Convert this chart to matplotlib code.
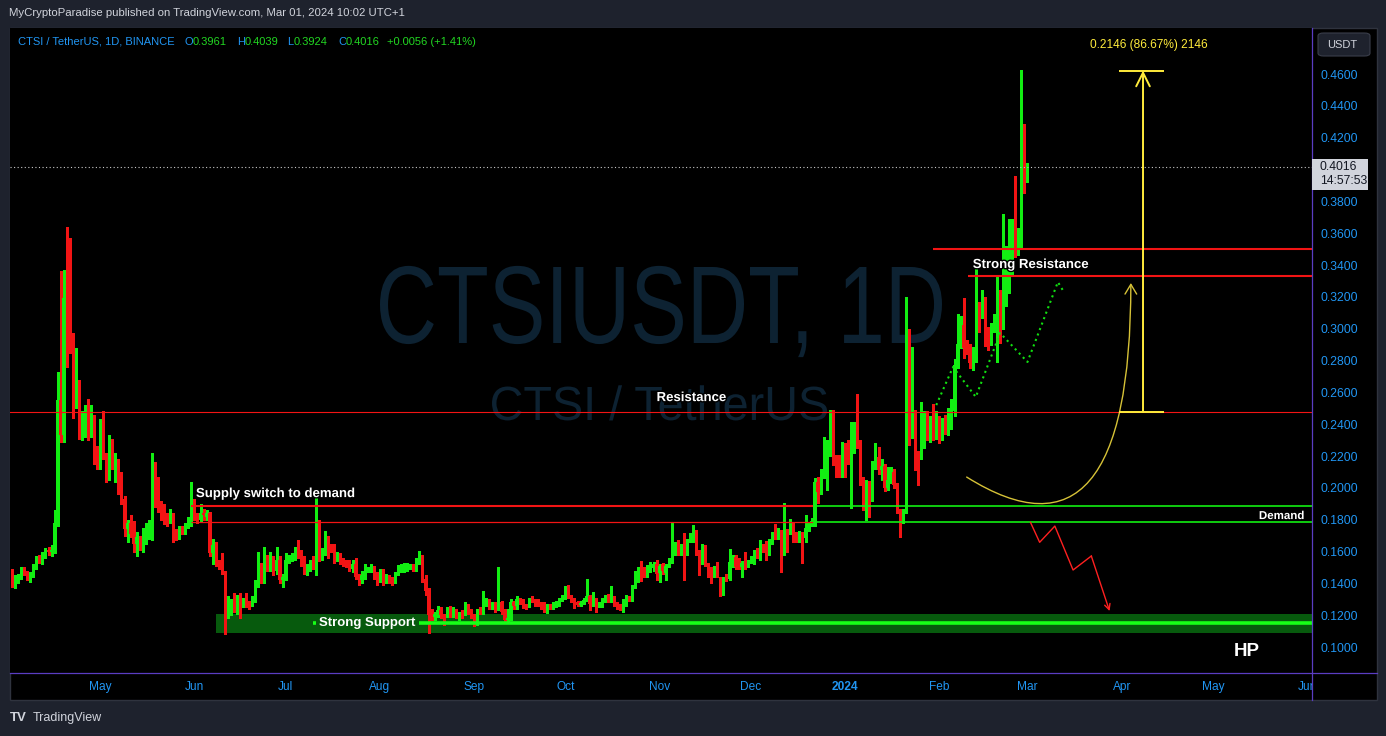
import matplotlib
matplotlib.use("Agg")
import matplotlib.pyplot as plt
import matplotlib.dates as mdates
import matplotlib.transforms as mtransforms
import matplotlib.patheffects as pe
import numpy as np
import pandas as pd
from matplotlib.patches import Rectangle, FancyBboxPatch, PathPatch, FancyArrowPatch
from matplotlib.path import Path
from matplotlib.textpath import TextPath
from matplotlib.font_manager import FontProperties
from matplotlib.lines import Line2D

plt.rcParams['font.family'] = ['Liberation Sans', 'DejaVu Sans']

# daily CTSI/USDT candles (last one = 2024-03-01)
opens = [
    .146, .141, .143, .145, .149, .146, .143, .145, .151, .156,
    .155, .158, .161, .160, .161, .178, .255, .233, .319, .301,
    .293, .255, .266, .235, .236, .248, .242, .243, .224, .222,
    .233, .221, .209, .229, .215, .217, .200, .193, .174, .178,
    .177, .165, .169, .163, .168, .171, .172, .209, .193, .191,
    .188, .181, .180, .182, .172, .171, .174, .173, .177, .178,
    .191, .182, .180, .184, .182, .184, .159, .164, .154, .152,
    .148, .121, .125, .127, .126, .131, .127, .129, .128, .127,
    .130, .139, .147, .142, .152, .150, .155, .148, .155, .142,
    .144, .155, .156, .157, .160, .159, .153, .147, .150, .153,
    .150, .178, .157, .160, .167, .163, .161, .155, .158, .1545,
    .1537, .153, .149, .152, .144, .142, .145, .148, .149, .149,
    .145, .142, .147, .142, .144, .1427, .141, .1455, .148, .149,
    .1495, .150, .1506, .149, .153, .157, .143, .1355, .121, .119,
    .121, .123, .120, .120, .123, .120, .123, .119, .121, .121,
    .1255, .122, .119, .116, .123, .122, .1275, .129, .125, .127,
    .124, .128, .123, .117, .118, .128, .1255, .130, .1287, .1259,
    .1255, .1307, .1297, .1291, .1276, .127, .123, .126, .1255, .1255,
    .1272, .1293, .1303, .1374, .1328, .1301, .128, .1266, .1276, .1293,
    .1318, .1266, .1291, .1255, .1255, .1293, .1318, .1293, .1312, .127,
    .1259, .1234, .1272, .1312, .1303, .1381, .1427, .1485, .1485, .1454,
    .1481, .1495, .1523, .1464, .1523, .1464, .151, .1547, .160, .1641,
    .161, .1627, .1594, .1673, .1677, .1714, .160, .1537, .1631, .1526,
    .1495, .1453, .1484, .1421, .1338, .1432, .1425, .1532, .1568, .1552,
    .1505, .1526, .1505, .1537, .1547, .1594, .159, .1647, .1662, .160,
    .1662, .1714, .1693, .1725, .160, .1725, .1725, .1767, .1714, .1688,
    .1719, .1683, .1746, .1767, .1788, .2039, .1987, .2091, .2207, .2248,
    .2426, .2196, .2128, .2123, .227, .223, .2196, .2259, .2306, .228,
    .205, .1934, .2025, .1934, .2148, .2196, .2113, .2138, .1997, .205,
    .2102, .2018, .1861, .1798, .1851, .2699, .2437, .2452, .2217, .2196,
    .2269, .2406, .2322, .240, .235, .242, .233, .239, .236, .242,
    .248, .2772, .2904, .3023, .2877, .285, .2782, .285, .3153, .3113,
    .3159, .3002, .2919, .2996, .3076, .3086, .3023, .3243, .3327, .3348,
    .3595, .3526, .3536, .4192, .3961,
]
highs = [
    .149, .145, .146, .150, .150, .148, .147, .152, .157, .158,
    .160, .162, .163, .164, .186, .273, .336, .337, .364, .357,
    .297, .288, .268, .248, .252, .256, .252, .246, .226, .243,
    .248, .222, .233, .231, .222, .218, .210, .195, .180, .183,
    .179, .172, .170, .175, .178, .180, .222, .216, .207, .192,
    .190, .184, .187, .184, .174, .176, .176, .178, .182, .204,
    .193, .184, .190, .187, .186, .185, .168, .166, .155, .159,
    .148, .132, .130, .134, .133, .134, .131, .134, .129, .132,
    .142, .160, .153, .163, .158, .160, .157, .163, .157, .146,
    .159, .158, .159, .163, .167, .161, .157, .152, .155, .157,
    .194, .180, .162, .173, .170, .165, .165, .160, .159, .156,
    .155, .155, .155, .156, .146, .148, .152, .150, .152, .151,
    .147, .149, .149, .146, .145, .144, .147, .1515, .152, .153,
    .153, .152, .152, .156, .1605, .158, .145, .137, .124, .122,
    .126, .125, .121, .125, .126, .125, .124, .122, .123, .128,
    .127, .124, .121, .124, .125, .1353, .131, .130, .128, .128,
    .1506, .129, .124, .124, .130, .129, .1318, .131, .130, .127,
    .131, .1318, .130, .130, .128, .128, .127, .127, .128, .129,
    .131, .133, .1385, .1391, .133, .131, .129, .129, .131, .1429,
    .133, .1347, .131, .128, .131, .133, .1332, .1385, .132, .128,
    .127, .1305, .1328, .132, .139, .148, .1502, .1542, .1506, .1516,
    .1537, .1537, .1548, .152, .1531, .152, .156, .178, .166, .167,
    .165, .1714, .168, .1718, .1767, .1735, .161, .165, .164, .153,
    .150, .151, .1537, .1442, .1442, .146, .1614, .158, .158, .156,
    .154, .160, .155, .157, .161, .162, .1673, .165, .1667, .168,
    .172, .1772, .175, .1733, .1903, .174, .1805, .178, .1725, .173,
    .1725, .183, .178, .181, .206, .2071, .212, .2322, .230, .2489,
    .2489, .2207, .2207, .229, .228, .230, .2416, .2416, .2588, .230,
    .207, .205, .2045, .217, .228, .2259, .218, .215, .2133, .2133,
    .212, .203, .187, .187, .3201, .2996, .2887, .2489, .223, .2541,
    .2483, .2483, .245, .253, .248, .245, .244, .246, .250, .256,
    .281, .3092, .308, .3191, .2932, .2904, .2887, .339, .317, .3243,
    .3201, .301, .3034, .3092, .3331, .3243, .3721, .352, .3687, .3687,
    .3959, .363, .4625, .4286, .4039,
]
lows = [
    .138, .137, .140, .143, .145, .142, .141, .144, .149, .153,
    .152, .156, .158, .157, .159, .176, .229, .229, .276, .285,
    .244, .250, .231, .230, .232, .230, .232, .215, .212, .212,
    .218, .204, .205, .212, .204, .196, .190, .170, .166, .169,
    .160, .157, .161, .160, .165, .168, .167, .188, .185, .180,
    .177, .176, .178, .166, .167, .168, .171, .171, .175, .176,
    .180, .178, .179, .180, .180, .157, .152, .151, .149, .146,
    .108, .118, .120, .122, .121, .118, .125, .125, .124, .126,
    .128, .138, .140, .140, .148, .148, .145, .146, .140, .138,
    .142, .153, .154, .155, .156, .151, .146, .145, .148, .149,
    .145, .154, .155, .158, .156, .160, .153, .154, .152, .151,
    .150, .148, .147, .143, .139, .140, .143, .147, .147, .143,
    .139, .141, .139, .140, .140, .139, .140, .145, .147, .147,
    .148, .149, .148, .148, .152, .141, .133, .1086, .117, .117,
    .119, .118, .114, .119, .119, .119, .118, .117, .118, .120,
    .121, .118, .113, .114, .121, .121, .126, .124, .124, .122,
    .123, .121, .115, .116, .117, .124, .124, .127, .1245, .124,
    .125, .128, .126, .1255, .124, .122, .1213, .124, .124, .125,
    .126, .129, .130, .131, .128, .1245, .126, .126, .127, .129,
    .123, .126, .1218, .125, .125, .128, .128, .128, .126, .124,
    .123, .122, .126, .129, .129, .137, .141, .1412, .144, .144,
    .147, .148, .1422, .1406, .146, .1422, .150, .153, .158, .158,
    .158, .1421, .158, .166, .166, .158, .1453, .152, .151, .1442,
    .140, .144, .144, .132, .1328, .1418, .142, .150, .149, .149,
    .1442, .149, .150, .153, .152, .156, .155, .160, .1547, .158,
    .165, .168, .168, .1474, .158, .160, .171, .166, .166, .166,
    .1526, .166, .173, .176, .176, .1903, .196, .206, .1987, .220,
    .2143, .207, .207, .207, .207, .215, .1872, .222, .225, .202,
    .1861, .1798, .182, .192, .212, .209, .205, .198, .1985, .203,
    .200, .184, .1694, .178, .184, .227, .2311, .2113, .2018, .218,
    .225, .230, .229, .230, .231, .228, .230, .234, .233, .237,
    .245, .275, .288, .2814, .284, .2751, .2741, .2793, .2981, .3065,
    .2892, .2866, .290, .298, .2793, .2912, .300, .3143, .3222, .333,
    .345, .3463, .350, .385, .3924,
]
closes = [
    .141, .143, .145, .149, .146, .143, .145, .151, .156, .155,
    .158, .161, .160, .161, .178, .255, .233, .319, .301, .293,
    .255, .266, .235, .236, .248, .242, .243, .224, .222, .234,
    .221, .209, .229, .215, .217, .200, .193, .174, .178, .171,
    .165, .169, .163, .168, .171, .172, .209, .191, .191, .188,
    .181, .180, .182, .172, .171, .174, .173, .177, .180, .186,
    .182, .180, .184, .183, .184, .159, .164, .154, .152, .148,
    .121, .125, .127, .126, .131, .127, .129, .127, .127, .130,
    .140, .147, .142, .152, .150, .155, .147, .155, .142, .144,
    .155, .156, .157, .160, .159, .153, .147, .150, .153, .150,
    .178, .157, .160, .167, .160, .161, .155, .158, .154, .1537,
    .1527, .149, .152, .144, .143, .145, .148, .149, .1495, .145,
    .142, .1468, .142, .144, .141, .141, .1455, .148, .149, .1495,
    .150, .1506, .149, .153, .1573, .143, .1355, .1203, .119, .121,
    .123, .120, .119, .123, .120, .123, .119, .121, .119, .125,
    .122, .119, .116, .122, .122, .1275, .129, .125, .126, .123,
    .128, .122, .117, .118, .128, .1255, .130, .1287, .1255, .1255,
    .1303, .1297, .1276, .1266, .1259, .123, .1259, .1255, .1266, .1276,
    .1291, .1305, .1374, .1318, .1293, .128, .1266, .1276, .1297, .1318,
    .1272, .128, .1245, .127, .1297, .1318, .1293, .1318, .1266, .1255,
    .1234, .1272, .1312, .1307, .1387, .1433, .1485, .1481, .1454, .1485,
    .1521, .1523, .146, .151, .1475, .151, .1548, .160, .1641, .160,
    .162, .1594, .1673, .1677, .1714, .160, .1537, .1631, .1526, .1495,
    .1453, .1495, .1453, .1338, .1425, .1425, .1532, .1568, .1505, .1505,
    .1526, .1501, .1537, .1547, .1594, .159, .1647, .162, .159, .1662,
    .1714, .1698, .1725, .160, .1729, .1693, .1767, .1683, .1688, .1714,
    .1673, .1746, .1767, .1792, .2039, .1976, .2091, .2207, .2248, .2426,
    .2196, .2123, .2123, .2259, .223, .220, .2264, .2306, .228, .205,
    .1934, .2025, .1934, .2148, .2196, .2113, .2138, .1997, .205, .2096,
    .2018, .1861, .1798, .1851, .2699, .2437, .2458, .2207, .2186, .2269,
    .2406, .2322, .240, .235, .242, .233, .239, .236, .242, .248,
    .2772, .2904, .3023, .2877, .285, .2782, .2856, .3153, .3113, .3159,
    .3002, .2919, .2996, .3076, .3086, .3023, .3243, .3327, .3348, .3595,
    .3474, .3547, .4192, .3955, .4016,
]
last_day = '2024-03-01'

price_ticks = [0.10, 0.12, 0.14, 0.16, 0.18, 0.20, 0.22, 0.24, 0.26,
               0.28, 0.30, 0.32, 0.34, 0.36, 0.38, 0.40, 0.42, 0.44, 0.46]
month_ticks = ['2023-05-01', '2023-06-01', '2023-07-01', '2023-08-01', '2023-09-01',
               '2023-10-01', '2023-11-01', '2023-12-01', '2024-01-01', '2024-02-01',
               '2024-03-01', '2024-04-01', '2024-05-01', '2024-06-01']
month_labels = ['May', 'Jun', 'Jul', 'Aug', 'Sep', 'Oct', 'Nov', 'Dec', '2024',
                'Feb', 'Mar', 'Apr', 'May', 'Jun']

# drawn levels
resistance = 0.2476
supply_levels = [0.1888, 0.1785]
support_band = [0.1091, 0.1205]
support_level = 0.1149
strong_res_levels = [0.3501, 0.3331]
last_price = 0.4016

# hand drawn forecast paths (date, price)
path_dates = ['2024-01-31', '2024-02-05 12:00', '2024-02-13', '2024-02-21',
              '2024-03-01', '2024-03-11', '2024-03-13']
path_prices = [0.2520, 0.2759, 0.2571, 0.2973, 0.2791, 0.3293, 0.3230]
drop_dates = ['2024-03-02', '2024-03-05', '2024-03-10', '2024-03-16', '2024-03-22', '2024-03-28']
drop_prices = [0.1783, 0.1658, 0.1760, 0.1484, 0.1572, 0.1226]
curve_dates = ['2024-02-10', '2024-04-04', '2024-04-04']
curve_prices = [0.2068, 0.1421, 0.3287]
measure_date = '2024-04-08'
measure_range = [0.2476, 0.4622]

W, H = 1386, 736
GREEN = '#12ee12'
RED = '#f21414'
BLUE = '#2196f3'
YELLOW = '#ffeb3b'
VALUE_GREEN = '#22d822'


def fx(px):
    return px / W


def fy(py):
    return 1 - py / H


def d(s):
    return mdates.date2num(pd.Timestamp(s))


fig = plt.figure(figsize=(W / 100, H / 100), dpi=100)
fig.patch.set_facecolor('#1e222d')
fig.add_artist(Rectangle((fx(10), fy(700)), 1367 / W, 672 / H, transform=fig.transFigure,
                         facecolor='black', edgecolor='#2f333e', lw=1, zorder=-5))

ax = fig.add_axes([fx(10), fy(673), 1302 / W, 645 / H])
ax.set_facecolor('black')
for s in ax.spines.values():
    s.set_visible(False)
x_left, x_right = d('2023-04-01 08:00'), d('2024-06-02 14:00')
ax.set_xlim(x_left, x_right)
ax.set_ylim(0.0837, 0.4889)


# watermark
def wmark(text, left, right, top, base):
    fp = FontProperties(family='Liberation Sans')
    tp = TextPath((0, 0), text, size=100, prop=fp)
    ext = tp.get_extents()
    cap = TextPath((0, 0), 'I', size=100, prop=fp).get_extents().y1
    tr = (mtransforms.Affine2D().translate(-ext.x0, 0)
          .scale((right - left) / ext.width, (base - top) / cap)
          .translate(left, H - base).scale(1 / W, 1 / H) + fig.transFigure)
    ax.add_artist(PathPatch(tp, transform=tr, facecolor='#0d2232', edgecolor='none', zorder=0.5))


wmark('CTSIUSDT, 1D', 380, 942, 267, 343)
wmark('CTSI / TetherUS', 492, 827, 387, 420)

# support band
ax.add_patch(Rectangle((d('2023-06-08'), support_band[0]), x_right - d('2023-06-08'),
                       support_band[1] - support_band[0], facecolor='#075a0d',
                       edgecolor='none', zorder=1))

# candles
o = np.array(opens)
h = np.array(highs)
lo = np.array(lows)
c = np.array(closes)
x = mdates.date2num(pd.date_range(end=last_day, periods=len(c), freq='D').values)
col = np.where(c >= o, GREEN, RED)
ax.vlines(x, lo, h, colors=col, lw=0.8, zorder=2, antialiased=False)
ax.bar(x, np.maximum(np.abs(c - o), 0.0007), bottom=np.minimum(o, c), width=0.8,
       color=col, lw=0, zorder=3, antialiased=False)

# levels
ax.axhline(resistance, color=RED, lw=0.8, zorder=4)
ax.hlines(supply_levels[0], d('2023-05-31'), d('2023-12-21 12:00'), color=RED, lw=1.5, zorder=4)
ax.hlines(supply_levels[1], d('2023-05-31'), d('2023-12-21 12:00'), color=RED, lw=0.9, zorder=4)
ax.hlines(supply_levels, d('2023-12-21 12:00'), x_right, color=GREEN, lw=1.2, zorder=4)
ax.hlines(support_level, d('2023-07-10'), x_right, color='#17ff17', lw=2.6, zorder=4)
ax.hlines(strong_res_levels[0], d('2024-01-30'), x_right, color=RED, lw=1.5, zorder=4)
ax.hlines(strong_res_levels[1], d('2024-02-10 12:00'), x_right, color=RED, lw=1.5, zorder=4)
ax.axhline(last_price, color='#c8c8c8', lw=0.8, ls=(0, (1, 2.2)), zorder=4)

# forecast drawings
ax.plot([d(t) for t in path_dates], path_prices, color='#11e011', lw=1.5,
        ls=(0, (1, 1.8)), zorder=5)
dx = [d(t) for t in drop_dates]
ax.plot(dx[:-1], drop_prices[:-1], color='#ff2020', lw=1, zorder=5)
ax.annotate('', xy=(dx[-1], drop_prices[-1]), xytext=(dx[-2], drop_prices[-2]),
            arrowprops=dict(arrowstyle='->', color='#ff2020', lw=1, shrinkA=0, shrinkB=0,
                            mutation_scale=10), zorder=5)
curve = Path([(d(t), p) for t, p in zip(curve_dates, curve_prices)],
             [Path.MOVETO, Path.CURVE3, Path.CURVE3])
ax.add_artist(FancyArrowPatch(path=curve, arrowstyle='->,head_length=0.5,head_width=0.3',
                              mutation_scale=14, color='#d6c237', lw=1, zorder=5))

mx = d(measure_date)
ax.annotate('', xy=(mx, measure_range[1]), xytext=(mx, measure_range[0]),
            arrowprops=dict(arrowstyle='->,head_length=0.7,head_width=0.35', color=YELLOW,
                            lw=1.4, shrinkA=0, shrinkB=0, mutation_scale=14), zorder=6)
ax.hlines(measure_range, d('2024-03-31'), d('2024-04-15'), color=YELLOW, lw=1.4, zorder=6)
ax.text(d('2024-04-10'), 0.4782, '0.2146 (86.67%) 2146', color=YELLOW, fontsize=8.6,
        ha='center', va='center', zorder=7)

# labels
stroke = [pe.withStroke(linewidth=2, foreground='black')]
lab = dict(color='white', fontweight='bold', fontsize=9.5, va='center', zorder=8,
           path_effects=stroke)
ax.text(d('2023-10-31'), 0.2564, 'Resistance', **lab)
ax.text(d('2023-06-01 12:00'), 0.1961, 'Supply switch to demand', **lab)
ax.text(d('2024-02-12'), 0.3400, 'Strong Resistance', **lab)
ax.text(d('2023-07-12'), support_level, 'Strong Support',
        color='white', fontweight='bold', fontsize=9.5, va='center', zorder=8,
        bbox=dict(boxstyle='square,pad=0.25', facecolor='#075a0d', edgecolor='none'))
ax.text(d('2024-05-31'), 0.1823, 'Demand', color='white', fontweight='bold', fontsize=8.3,
        ha='right', va='center', zorder=8, path_effects=stroke)
ax.text(d('2024-05-12'), 0.0975, 'HP', color='white', fontweight='bold', fontsize=13.5,
        ha='center', va='center', zorder=8)

# axes ticks (0.4000 sits under the last-price box)
ax.yaxis.tick_right()
ax.set_yticks(price_ticks)
ax.set_yticklabels(['' if abs(v - 0.40) < 1e-9 else f'{v:.4f}' for v in price_ticks])
ax.set_xticks([d(t) for t in month_ticks])
ax.set_xticklabels(month_labels)
ax.tick_params(axis='y', length=0, pad=5.8, labelcolor=BLUE, labelsize=8.7)
ax.tick_params(axis='x', length=0, pad=6, labelcolor=BLUE, labelsize=8.6)
ax.get_xticklabels()[8].set_fontweight('bold')
jun = ax.get_xticklabels()[-1]
jun.set_clip_on(True)
jun.set_clip_box(mtransforms.TransformedBbox(mtransforms.Bbox([[0, 0], [fx(1312), 1]]),
                                             fig.transFigure))

# separators
sep = '#5a3dc2'
fig.add_artist(Line2D([fx(1312), fx(1312)], [fy(700), fy(28)], color=sep, lw=0.9,
                      transform=fig.transFigure, zorder=2))
fig.add_artist(Line2D([fx(10), fx(1377)], [fy(673), fy(673)], color=sep, lw=0.9,
                      transform=fig.transFigure, zorder=2))

# header / legend
fig.text(fx(9), fy(13), 'MyCryptoParadise published on TradingView.com, Mar 01, 2024 10:02 UTC+1',
         color='#d1d4dc', fontsize=8.2, va='center')
renderer = fig.canvas.get_renderer()
legend_items = [(17.7, [('CTSI / TetherUS, 1D, BINANCE', BLUE)]),
                (184, [('O', BLUE), (f'{opens[-1]:.4f}', VALUE_GREEN)]),
                (237, [('H', BLUE), (f'{highs[-1]:.4f}', VALUE_GREEN)]),
                (287, [('L', BLUE), (f'{lows[-1]:.4f}', VALUE_GREEN)]),
                (338, [('C', BLUE), (f'{closes[-1]:.4f}', VALUE_GREEN)]),
                (387, [('+0.0056 (+1.41%)', VALUE_GREEN)])]
for px, parts in legend_items:
    cur = px
    for t, cc in parts:
        tx = fig.text(fx(cur), fy(42), t, color=cc, fontsize=8, va='center')
        cur += tx.get_window_extent(renderer).width

# price scale widgets
fig.add_artist(FancyBboxPatch((fx(1318), fy(56)), 52 / W, 23 / H,
                              boxstyle='round,pad=0,rounding_size=0.004',
                              transform=fig.transFigure, facecolor='#1e222d',
                              edgecolor='#3a3e4a', lw=0.8, zorder=3))
fig.text(fx(1327), fy(44.5), 'USDT', color='#d1d4dc', fontsize=8, va='center', zorder=4)
fig.add_artist(Rectangle((fx(1312), fy(190)), 56 / W, 31 / H, transform=fig.transFigure,
                         facecolor='#d1d4dc', edgecolor='none', zorder=3))
fig.text(fx(1320), fy(167.5), f'{last_price:.4f}', color='#131722', fontsize=8.7,
         va='center', zorder=4)
fig.text(fx(1320), fy(181), '14:57:53', color='#131722', fontsize=8.7, va='center', zorder=4)

# footer
fig.text(fx(10), fy(718), 'TV', color='#d1d4dc', fontsize=9.5, fontweight='bold', va='center')
fig.text(fx(33), fy(718), 'TradingView', color='#d1d4dc', fontsize=9, va='center')

fig.savefig('out.png', dpi=100, facecolor=fig.get_facecolor())
